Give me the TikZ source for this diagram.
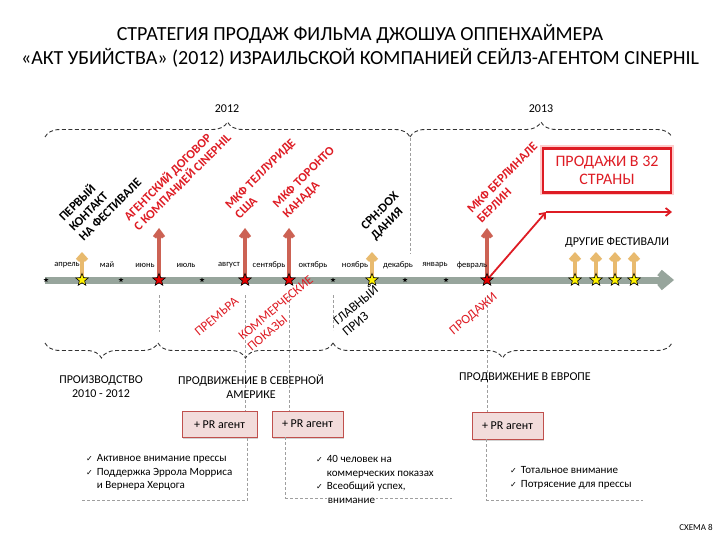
\documentclass[tikz,border=0pt]{standalone}
\usepackage{fontspec}
\setmainfont{Carlito}
\newfontfamily\symfont{DejaVu Sans}
\usepackage{tikz}
\usetikzlibrary{arrows.meta, shapes.geometric, decorations.pathreplacing, shadows, calc}
\usepackage{xcolor}
\definecolor{lineGray}{RGB}{151,165,156}
\definecolor{festGold}{RGB}{232,186,110}
\definecolor{eventRed}{RGB}{204,98,84}
\definecolor{textRed}{RGB}{222,28,36}
\definecolor{prFill}{RGB}{242,220,219}
\definecolor{prEdge}{RGB}{192,80,77}
\newcommand{\chk}{{\symfont\fontsize{8}{8}\selectfont ✓}}

\begin{document}
\begin{tikzpicture}[x=1pt, y=-1pt,
    every node/.style={font=\fontsize{11}{13.5}\selectfont, inner sep=0pt},
    timeline/.style={draw=lineGray, line width=7pt, -{Straight Barb[length=9pt, width=15pt]}},
    goldarrow/.style={draw=festGold, line width=4.5pt, -{Straight Barb[length=5pt, width=9pt]}},
    redarrow/.style={draw=eventRed, line width=4pt, -{Straight Barb[length=6pt, width=9pt]}},
    salesarrow/.style={draw=textRed, line width=1.8pt, -{Straight Barb[length=5pt, width=8pt]}},
    guide/.style={draw=gray!75, line width=0.8pt, dash pattern=on 3pt off 2pt},
    yearbrace/.style={decorate, decoration={brace, amplitude=15pt}, draw=black!80, line width=0.9pt, dash pattern=on 4pt off 2.5pt},
    phasebrace/.style={decorate, decoration={brace, mirror, amplitude=15pt}, draw=black!80, line width=0.9pt, dash pattern=on 4pt off 2.5pt},
    yellowstar/.style={star, star points=5, star point ratio=2.3, minimum size=13pt, fill=yellow, draw=black, line width=0.6pt},
    redstar/.style={star, star points=5, star point ratio=2.3, minimum size=13pt, fill=red!90!black, draw=black, line width=0.6pt},
    tick/.style={star, star points=5, star point ratio=2.3, minimum size=5pt, fill=black},
    month/.style={font=\fontsize{8.5}{10}\selectfont},
    evtlabel/.style={rotate=45, anchor=south west, align=left, font=\fontsize{12.5}{14}\selectfont\bfseries},
    sublabel/.style={rotate=40, anchor=south west, align=left, font=\fontsize{13}{14}\selectfont},
    phase/.style={align=center, font=\fontsize{12}{13.5}\selectfont},
    prbox/.style={draw=prEdge, fill=prFill, line width=0.8pt, minimum width=71pt, minimum height=26pt,
      font=\fontsize{12}{13}\selectfont, drop shadow={shadow xshift=1pt, shadow yshift=-1.5pt, opacity=0.35}},
    salesbox/.style={draw=textRed, line width=2.5pt, fill=white, text=textRed, align=center,
      minimum width=128pt, minimum height=44pt, font=\fontsize{16}{18}\selectfont,
      preaction={draw=red!20, line width=6pt}}]

  \useasboundingbox (0,0) rectangle (720,540);

  % Title
  \node[font=\fontsize{20}{24}\selectfont, align=center] (title) at (360,46)
    {СТРАТЕГИЯ ПРОДАЖ ФИЛЬМА ДЖОШУА ОППЕНХАЙМЕРА\\
     «АКТ УБИЙСТВА» (2012) ИЗРАИЛЬСКОЙ КОМПАНИЕЙ СЕЙЛЗ-АГЕНТОМ CINEPHIL};

  % Years
  \draw[yearbrace] (45,137) -- (410,137);
  \draw[yearbrace] (410,137) -- (672,137);
  \node[font=\fontsize{12}{13}\selectfont] (y2012) at (227,109) {2012};
  \node[font=\fontsize{12}{13}\selectfont] (y2013) at (541,109) {2013};
  \draw[guide] (410,138) -- (410,254);

  % Points on the time line
  \coordinate (start) at (45,280);
  \coordinate (end) at (674,280);
  \coordinate (apr) at (82,280);
  \coordinate (jun) at (159,280);
  \coordinate (aug) at (245,280);
  \coordinate (sep) at (289,280);
  \coordinate (nov) at (372,280);
  \coordinate (feb) at (487,280);
  \coordinate (f1) at (575,280);
  \coordinate (f2) at (596,280);
  \coordinate (f3) at (615,280);
  \coordinate (f4) at (634,280);

  % Event arrows
  \foreach \p in {apr, nov, f1, f2, f3, f4}
    \draw[goldarrow] (\p) -- ++(0,-28);
  \foreach \p in {jun, aug, sep, feb}
    \draw[redarrow] (\p) -- ++(0,-52);

  % Time line
  \draw[timeline] (start) -- (end);

  % Sales
  \coordinate (bend) at (546,212);
  \coordinate (salesend) at (672,212);
  \draw[salesarrow] (feb) -- (bend);
  \draw[salesarrow] (bend) -- (salesend);
  \node[salesbox] (countries) at (607,170.5) {ПРОДАЖИ В 32\\СТРАНЫ};

  % Month marks
  \foreach \x in {46, 121, 202, 333, 405, 446}
    \node[tick] at (\x,280) {};
  \foreach \x/\m in {67/апрель, 107/май, 145/июнь, 186/июль, 229/август, 269/сентябрь,
      313/октябрь, 355/ноябрь, 398/декабрь, 435/январь, 472/февраль}
    \node[month] at (\x,265) {\m};

  % Stars
  \foreach \p in {apr, nov, f1, f2, f3, f4}
    \node[yellowstar] (s-\p) at (\p) {};
  \foreach \p in {jun, aug, sep, feb}
    \node[redstar] (s-\p) at (\p) {};

  % Event labels
  \node[evtlabel] (contact) at (84,242) {ПЕРВЫЙ\\КОНТАКТ\\НА ФЕСТИВАЛЕ};
  \node[evtlabel, text=textRed] (agent) at (139,232) {АГЕНТСКИЙ ДОГОВОР\\С КОМПАНИЕЙ CINEPHIL};
  \node[evtlabel, text=textRed] (telluride) at (240,220) {МКФ ТЕЛЛУРИДЕ\\США};
  \node[evtlabel, text=textRed] (toronto) at (289,220) {МКФ ТОРОНТО\\КАНАДА};
  \node[evtlabel] (cphdox) at (377,242) {CPH:DOX\\ДАНИЯ};
  \node[evtlabel, text=textRed] (berlinale) at (482,224) {МКФ БЕРЛИНАЛЕ\\БЕРЛИН};
  \node[font=\fontsize{12}{13}\selectfont] (others) at (617,242) {ДРУГИЕ ФЕСТИВАЛИ};

  % PR boxes
  \node[prbox, minimum width=75pt] (pr1) at (219.5,424.5) {+ PR агент};
  \node[prbox] (pr2) at (307.5,424) {+ PR агент};
  \node[prbox, minimum height=27pt] (pr3) at (507.5,425.5) {+ PR агент};

  % Guides below the line
  \draw[guide] (159,295) -- (159,332);
  \draw[guide] (333,295) -- (333,330);
  \draw[guide] ($(aug)+(0,15)$) -- (aug |- pr1.north);
  \draw[guide] ($(sep)+(0,15)$) -- (sep |- pr2.north);
  \draw[guide] ($(feb)+(0,15)$) -- (feb |- pr3.north);

  % Phases
  \draw[phasebrace] (45,343) -- (158,343);
  \draw[phasebrace] (158,343) -- (333,343);
  \draw[phasebrace] (333,343) -- (672,343);
  \node[phase] (prod) at (101,386.5) {ПРОИЗВОДСТВО\\2010 - 2012};
  \node[phase] (usa) at (251,386.5) {ПРОДВИЖЕНИЕ В СЕВЕРНОЙ\\АМЕРИКЕ};
  \node[phase] (europe) at (525,378) {ПРОДВИЖЕНИЕ В ЕВРОПЕ};

  % Labels below the line
  \node[sublabel, text=textRed] (premiere) at (199,337) {ПРЕМЬРА};
  \node[sublabel, text=textRed] (screenings) at (252,352) {КОММЕРЧЕСКИЕ\\ПОКАЗЫ};
  \node[sublabel] (prize) at (347,337) {ГЛАВНЫЙ\\ПРИЗ};
  \node[sublabel, text=textRed] (sales) at (455,337) {ПРОДАЖИ};

  % Results
  \coordinate (g1) at (82,500);
  \coordinate (g2) at (452,498);
  \coordinate (g3) at (643,500);
  \draw[guide] ([xshift=-10pt]pr1.south east) |- (g1);
  \draw[guide] ([xshift=14pt]pr2.south west) |- (g2);
  \draw[guide] ([xshift=15pt]pr3.south west) |- (g3);
  \node[anchor=north west] (res1) at (86,452) {%
    \begin{tabular}{@{}l@{\hspace{4pt}}l@{}}
      \chk & Активное внимание прессы\\
      \chk & Поддержка Эррола Морриса\\
           & и Вернера Херцога
    \end{tabular}};
  \node[anchor=north west] (res2) at (316,453) {%
    \begin{tabular}{@{}l@{\hspace{4pt}}l@{}}
      \chk & 40 человек на\\
           & коммерческих показах\\
      \chk & Всеобщий успех,\\
           & \setlength{\fboxsep}{1pt}\colorbox{white}{внимание}
    \end{tabular}};
  \node[anchor=north west] (res3) at (510,464) {%
    \begin{tabular}{@{}l@{\hspace{4pt}}l@{}}
      \chk & Тотальное внимание\\
      \chk & Потрясение для прессы
    \end{tabular}};

  \node[font=\fontsize{9}{11}\selectfont] (scheme) at (696,527) {СХЕМА 8};
\end{tikzpicture}
\end{document}
